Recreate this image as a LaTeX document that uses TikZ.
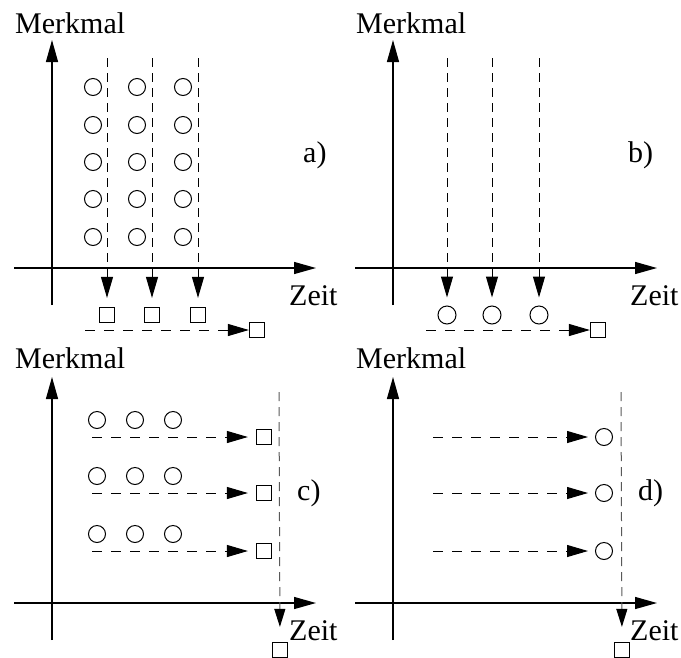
\documentclass[tikz,border=0pt]{standalone}
\usepackage{fontspec}
\setmainfont{Liberation Serif}
\usetikzlibrary{arrows.meta}
\tikzset{
	achse/.style={line width=1.3pt, -{Triangle[length=22pt,width=12pt]}},
	zuordnung/.style={line width=1pt, dash pattern=on 10pt off 9pt, -{Triangle[length=21pt,width=12pt]}},
	senkrecht/.style={line width=1pt, dash pattern=on 9pt off 6pt, -{Triangle[length=21pt,width=12pt]}},
	schnitt/.style={line width=1pt, dash pattern=on 9pt off 6pt, draw=black!65, -{Triangle[length=18pt,width=11pt,black]}},
	kreis/.style={circle, draw, line width=1pt, minimum size=17pt, inner sep=0pt},
	kasten/.style={rectangle, draw, line width=1.2pt, minimum size=15pt, inner sep=0pt},
	beschr/.style={font=\fontsize{30}{36}\selectfont, inner sep=0pt, anchor=base west}
}

\begin{document}
\begin{tikzpicture}[x=1pt,y=-1pt]
	\useasboundingbox (0,0) rectangle (681,657);

	% a)
	\begin{scope}
		\node [beschr] (a-merkmal) at (15,33) {Merkmal};
		\node [beschr] (a-zeit) at (289,305) {Zeit};
		\node [beschr] (a-nr) at (303,162) {a)};
		\coordinate (a-yb) at (52,305);
		\coordinate (a-yt) at (52,40);
		\coordinate (a-xl) at (14,268);
		\coordinate (a-xr) at (316,268);
		\foreach \i/\x in {1/107,2/152,3/198} {
			\coordinate (a-t\i) at (\x,58);
			\node [kasten] (a-q\i) at (\x,315) {};
		}
		\foreach \i/\x in {1/93,2/137,3/183}
			\foreach \j/\y in {1/87,2/125,3/162,4/199,5/237}
				\node [kreis] (a-k\i\j) at (\x,\y) {};
		\coordinate (a-hs) at (85,330);
		\node [kasten] (a-e) at (257,330) {};
		% edges
		\draw [achse] (a-yb) to (a-yt);
		\draw [achse] (a-xl) to (a-xr);
		\foreach \i in {1,2,3}
			\draw [senkrecht, shorten >=9pt] (a-t\i) to (a-q\i);
		\draw [zuordnung] (a-hs) to (a-e);
	\end{scope}

	% b)
	\begin{scope}[shift={(341,0)}]
		\node [beschr] (b-merkmal) at (15,33) {Merkmal};
		\node [beschr] (b-zeit) at (289,305) {Zeit};
		\node [beschr] (b-nr) at (287,162) {b)};
		\coordinate (b-yb) at (52,305);
		\coordinate (b-yt) at (52,40);
		\coordinate (b-xl) at (14,268);
		\coordinate (b-xr) at (316,268);
		\foreach \i/\x in {1/106,2/151,3/198} {
			\coordinate (b-t\i) at (\x,58);
			\node [kreis, minimum size=18pt] (b-k\i) at (\x,315) {};
		}
		\coordinate (b-hs) at (85,330);
		\node [kasten] (b-e) at (257,330) {};
		% edges
		\draw [achse] (b-yb) to (b-yt);
		\draw [achse] (b-xl) to (b-xr);
		\foreach \i in {1,2,3}
			\draw [senkrecht, shorten >=8pt] (b-t\i) to (b-k\i);
		\draw [zuordnung] (b-hs) to (b-e);
	\end{scope}

	% c)
	\begin{scope}[shift={(0,335)}]
		\node [beschr] (c-merkmal) at (15,33) {Merkmal};
		\node [beschr] (c-zeit) at (289,305) {Zeit};
		\node [beschr] (c-nr) at (297,165) {c)};
		\coordinate (c-yb) at (52,305);
		\coordinate (c-yt) at (52,42);
		\coordinate (c-xl) at (14,268);
		\coordinate (c-xr) at (316,268);
		\foreach \j/\y in {1/102,2/158,3/216} {
			\foreach \i/\x in {1/97,2/135,3/173}
				\node [kreis] (c-k\i\j) at (\x,\y-17) {};
			\coordinate (c-hs\j) at (92,\y);
			\node [kasten] (c-q\j) at (264,\y) {};
		}
		\coordinate (c-t) at (279,57);
		\node [kasten] (c-e) at (280,315) {};
		% edges
		\draw [achse] (c-yb) to (c-yt);
		\draw [achse] (c-xl) to (c-xr);
		\foreach \j in {1,2,3}
			\draw [zuordnung, shorten >=8pt] (c-hs\j) to (c-q\j);
		\draw [schnitt, shorten >=15pt] (c-t) to (c-e);
	\end{scope}

	% d)
	\begin{scope}[shift={(341,335)}]
		\node [beschr] (d-merkmal) at (15,33) {Merkmal};
		\node [beschr] (d-zeit) at (289,305) {Zeit};
		\node [beschr] (d-nr) at (297,165) {d)};
		\coordinate (d-yb) at (52,305);
		\coordinate (d-yt) at (52,42);
		\coordinate (d-xl) at (14,268);
		\coordinate (d-xr) at (316,268);
		\foreach \j/\y in {1/102,2/158,3/216} {
			\coordinate (d-hs\j) at (92,\y);
			\node [kreis] (d-k\j) at (263,\y) {};
		}
		\coordinate (d-t) at (280,57);
		\node [kasten] (d-e) at (281,315) {};
		% edges
		\draw [achse] (d-yb) to (d-yt);
		\draw [achse] (d-xl) to (d-xr);
		\foreach \j in {1,2,3}
			\draw [zuordnung, shorten >=7pt] (d-hs\j) to (d-k\j);
		\draw [schnitt, shorten >=15pt] (d-t) to (d-e);
	\end{scope}
\end{tikzpicture}
\end{document}
